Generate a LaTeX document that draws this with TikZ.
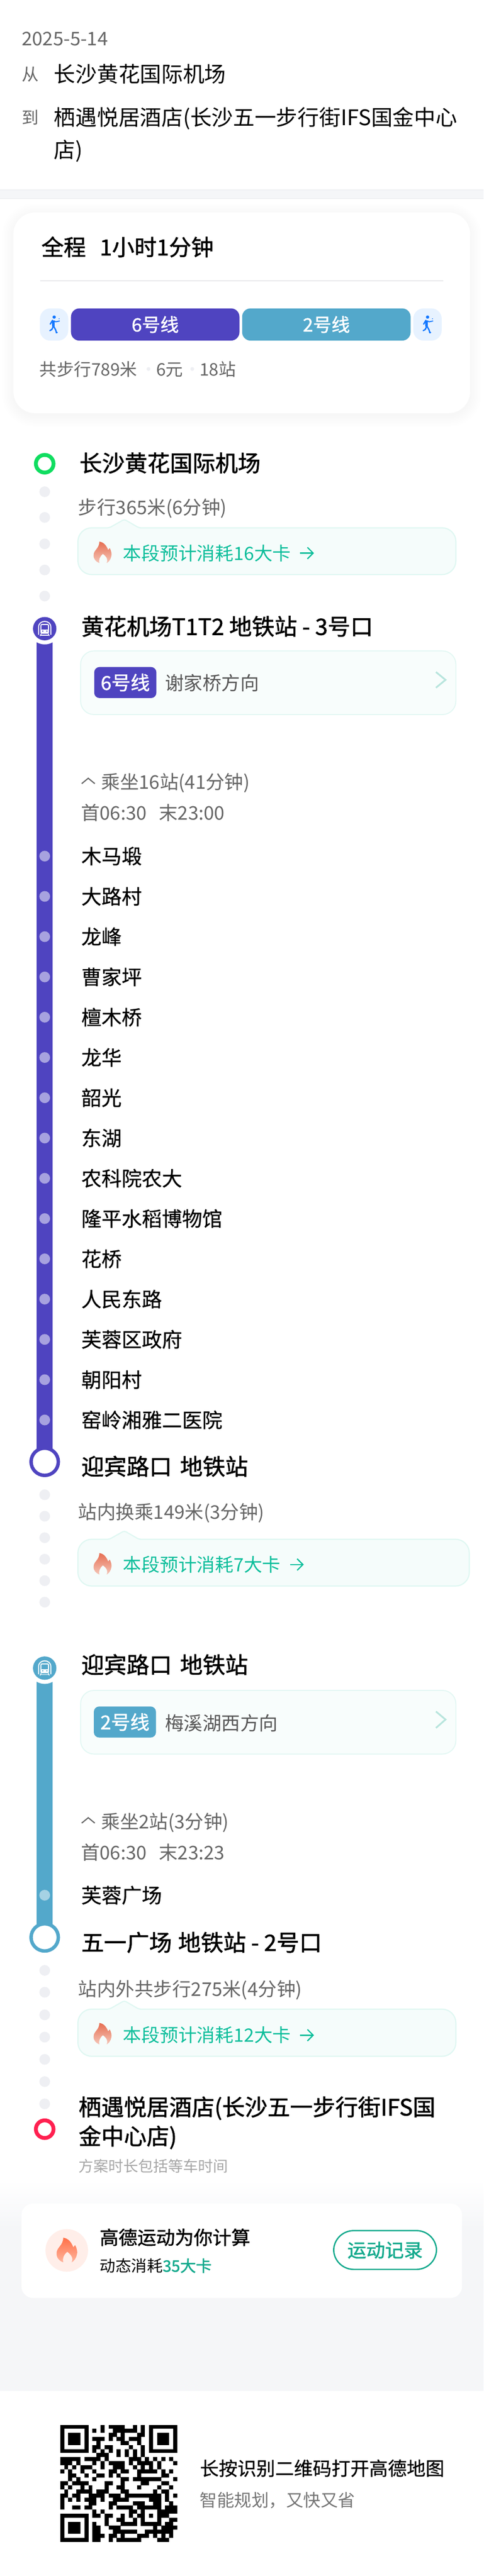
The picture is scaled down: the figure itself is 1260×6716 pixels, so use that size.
\documentclass[tikz,border=0pt]{standalone}
\usepackage{fontspec}
\setmainfont{Noto Sans CJK SC}
\newfontfamily\cjkmed[FakeBold=0.6]{Noto Sans CJK SC}
\newfontfamily\cjksemi[FakeBold=1.4]{Noto Sans CJK SC}
\usetikzlibrary{arrows.meta, backgrounds}
\definecolor{mypurple}{RGB}{79,68,192}
\definecolor{myteal}{RGB}{83,168,203}
\definecolor{mygrey}{RGB}{102,102,102}
\definecolor{mygreen}{RGB}{12,190,155}
\definecolor{mydeep}{RGB}{18,169,140}
\definecolor{mydot}{RGB}{238,239,243}
\definecolor{myband}{RGB}{245,246,248}
\definecolor{myline}{RGB}{232,233,236}
\definecolor{mywalk}{RGB}{20,120,255}
\definecolor{mystart}{RGB}{16,221,96}
\definecolor{myend}{RGB}{255,32,80}
\definecolor{firetop}{RGB}{230,110,82}
\definecolor{firelow}{RGB}{245,198,184}
\definecolor{bigtop}{RGB}{255,112,72}
\definecolor{biglow}{RGB}{255,180,156}
\tikzset{
  txt/.style={inner sep=0,outer sep=0,anchor=west,text height=0.88*#1 pt,text depth=0.12*#1 pt,
    font=\fontsize{#1}{#1}\selectfont},
  boldtxt/.style={txt=#1,font=\fontsize{#1}{#1}\selectfont\cjksemi},
  medtxt/.style={txt=#1,font=\fontsize{#1}{#1}\selectfont\cjkmed},
  title/.style={boldtxt=59},
  stoptxt/.style={medtxt=52.5},
  greytxt/.style={txt=49,color=mygrey},
  firetxt/.style={txt=48,color=mygreen},
  walkdot/.style={circle,fill=mydot,inner sep=0,outer sep=0,minimum size=28},
  purpledot/.style={walkdot,fill=mypurple!50!white},
  tealdot/.style={walkdot,fill=myteal!52!white},
  endring/.style={circle,draw=#1,fill=white,line width=10,inner sep=0,outer sep=0,minimum size=46},
  bigring/.style={circle,draw=#1,fill=white,line width=9,inner sep=0,outer sep=0,minimum size=71},
  metrodot/.style={circle,fill=#1,inner sep=0,outer sep=0,minimum size=61},
  halo/.style={circle,fill=white,inner sep=0,outer sep=0,minimum size=82},
  linebar/.style={line width=42,color=#1},
  pill/.style={fill=#1,rounded corners=22,inner sep=0,outer sep=0,minimum height=84,minimum width=439,
    text=white,font=\fontsize{48}{48}\selectfont\cjksemi},
  walkbox/.style={fill=mywalk!10!white,rounded corners=27,inner sep=0,outer sep=0,minimum height=84,minimum width=74},
  badge/.style={fill=#1,rounded corners=14,inner sep=0,outer sep=0,minimum height=81,minimum width=162,
    text=white,font=\fontsize{50}{50}\selectfont\cjksemi},
  linebox/.style={draw=mygreen!12!white,fill=mygreen!3!white,line width=2.5,rounded corners=35},
  hintline/.style={draw=mygreen!13!white,fill=mygreen!4!white,line width=3},
  chev/.style={draw=mydeep!30!white,line width=4.5},
  caret/.style={draw=mygrey,line width=3},
  arrowicon/.style={draw=mygreen,line width=3.2,-{Straight Barb[length=15pt,width=30pt]}},
  flame/.pic={
    \path[pic actions] (-8,-28) .. controls (4,-26) and (10,-18) .. (15,-6) .. controls (16,-8) and (18,-10) .. (19,-11)
      .. controls (23,-4) and (25,6) .. (23,10) .. controls (21,20) and (16,25) .. (11,28)
      .. controls (15,20) and (12,12) .. (1,4) .. controls (-8,12) and (-10,20) .. (-8,28)
      .. controls (-16,25) and (-24,18) .. (-23,7) .. controls (-23,-6) and (-8,-10) .. (-8,-28) -- cycle;
  },
  walker/.pic={
    \fill[mywalk] (0.2,-19.3) circle (4.3);
    \draw[mywalk,line width=6.5] (-2,-11) -- (-2,5);
    \draw[mywalk,line width=3.5,line cap=round] (-4,-11) -- (-10,-1);
    \draw[mywalk,line width=2.6,line cap=round] (1,-9) -- (4,-7) -- (14,-9);
    \draw[mywalk,line width=3.5,line cap=round] (-2,5) -- (-6,13) -- (-11,16);
    \draw[mywalk,line width=3.5,line cap=round] (-1,5) -- (4,14) -- (6,21) -- (8,21);
    \fill[mywalk] (13,-15) circle (1.4);
  },
  metro/.pic={
    \draw[white,line width=2.6] (-16,16) -- (-16,-4) .. controls (-16,-14) and (-8,-19) .. (0,-19)
      .. controls (8,-19) and (16,-14) .. (16,-4) -- (16,16);
    \draw[white,line width=2.6,rounded corners=3] (-10,-11) rectangle (10,12);
    \fill[white] (-9,3) rectangle (9,11);
    \fill[pic actions] (-7,5) rectangle (-4,8);
    \fill[pic actions] (4,5) rectangle (7,8);
    \draw[white,line width=2] (-9,13) -- (-12,19);
    \draw[white,line width=2] (9,13) -- (12,19);
    \draw[white,line width=2] (-10,17) -- (10,17);
  }
}
\newcommand{\hintbox}[3]{
  \draw[hintline] (260,#1) [rounded corners=36] -- (203,#1) -- (203,#2) -- (#3,#2) -- (#3,#1) -- (400,#1)
    [rounded corners=5] -- (362,#1) -- (324,#1-22) -- (285,#1) -- cycle;
}
\newcommand{\qrfinder}[2]{
  \fill[black] (156.7+10.53*#1,6321.7+10.53*#2) rectangle ++(73.7,73.7);
  \fill[white] (156.7+10.53*#1+10.53,6321.7+10.53*#2+10.53) rectangle ++(52.65,52.65);
  \fill[black] (156.7+10.53*#1+21.06,6321.7+10.53*#2+21.06) rectangle ++(31.6,31.6);
}
\begin{document}
\begin{tikzpicture}[x=1pt,y=-1pt]
\useasboundingbox (0,0) rectangle (1260,6716);

\fill[myband] (0,495) rectangle (1260,518);
\draw[myline,line width=1.5] (0,495) -- (1260,495);
\draw[myline,line width=2] (0,518) -- (1260,518);

\node [txt=49,color=mygrey] (dateTxt) at (57,100) {2025-5-14};
\node [txt=44,color=mygrey] (fromLbl) at (57,193) {从};
\node [txt=56] (fromTxt) at (141,193) {长沙黄花国际机场};
\node [txt=44,color=mygrey] (toLbl) at (57,306) {到};
\node [txt=56] (toTxt) at (141,306) {栖遇悦居酒店(长沙五一步行街IFS国金中心};
\node [txt=56] (toTxtb) at (141,391) {店)};


\foreach \s in {2,6,...,30}
  \fill[black,opacity=0.0045,rounded corners=56+\s] (35-\s,554-\s+6) rectangle (1225+\s,1077+\s+6);
\fill[white,rounded corners=56] (35,554) rectangle (1225,1077);

\node [boldtxt=58] (totalTxt) at (108,644) {全程\hspace{36pt}1小时1分钟};
\draw[myline,line width=2.5] (105,732) -- (1155,732);

\node [walkbox] (walkA) at (141,846) {};
\pic at (walkA) {walker};
\node [pill=mypurple] (pillA) at (404.5,846) {6号线};
\node [pill=myteal] (pillB) at (850.5,846) {2号线};
\node [walkbox] (walkB) at (1114,846) {};
\pic at (walkB) {walker};

\node [txt=45,color=mygrey] (sumA) at (103,963) {共步行789米};
\node [circle,fill=mydot,inner sep=0,minimum size=10] (sepA) at (387,962) {};
\node [txt=45,color=mygrey] (sumB) at (407,963) {6元};
\node [circle,fill=mydot,inner sep=0,minimum size=10] (sepB) at (501,962) {};
\node [txt=45,color=mygrey] (sumC) at (520,963) {18站};


\node [endring=mystart] (startRing) at (116.5,1209) {};
\node [title] (startTxt) at (207,1207) {长沙黄花国际机场};
\node [walkdot] (dotA) at (116.5,1282) {};
\node [walkdot] (dotB) at (116.5,1349) {};
\node [walkdot] (dotC) at (116.5,1418) {};
\node [walkdot] (dotD) at (116.5,1486) {};
\node [walkdot] (dotE) at (116.5,1554) {};
\node [greytxt] (walkTxtA) at (204,1322) {步行365米(6分钟)};

\hintbox{1376}{1498}{1188}
\pic [top color=firetop,bottom color=firelow] at (267,1440) {flame};
\node [firetxt] (fireTxtA) at (321,1442) {本段预计消耗16大卡};
\draw[arrowicon] ([xshift=24]fireTxtA.east) -- ++(36,0);


\node [metrodot=mypurple] (metroA) at (116.5,1639) {};
\pic [fill=mypurple] at (metroA) {metro};
\node [title] (stationA) at (212,1633) {黄花机场T1T2 地铁站 - 3号口};
\path[linebox] (210,1697) rectangle (1188,1863);
\node [badge=mypurple] (badgeA) at (326.5,1779.5) {6号线};
\node [txt=49,color=mygrey!85!black] (dirA) at (430,1780) {谢家桥方向};
\draw[chev] (1136,1752) -- (1161,1772.5) -- (1136,1793);

\draw[caret] (213,2043) -- (230,2029) -- (247,2043);
\node [greytxt] (rideA) at (264,2039) {乘坐16站(41分钟)};
\node [greytxt] (timeA) at (211,2119) {首06:30\hspace{32pt}末23:00};

\node [purpledot] (pA) at (116.5,2232) {};
\node [stoptxt] (sA) at (212,2232) {木马塅};
\node [purpledot] (pB) at (116.5,2337) {};
\node [stoptxt] (sB) at (212,2337) {大路村};
\node [purpledot] (pC) at (116.5,2442) {};
\node [stoptxt] (sC) at (212,2442) {龙峰};
\node [purpledot] (pD) at (116.5,2547) {};
\node [stoptxt] (sD) at (212,2547) {曹家坪};
\node [purpledot] (pE) at (116.5,2652) {};
\node [stoptxt] (sE) at (212,2652) {檀木桥};
\node [purpledot] (pF) at (116.5,2757) {};
\node [stoptxt] (sF) at (212,2757) {龙华};
\node [purpledot] (pG) at (116.5,2862) {};
\node [stoptxt] (sG) at (212,2862) {韶光};
\node [purpledot] (pH) at (116.5,2967) {};
\node [stoptxt] (sH) at (212,2967) {东湖};
\node [purpledot] (pI) at (116.5,3072) {};
\node [stoptxt] (sI) at (212,3072) {农科院农大};
\node [purpledot] (pJ) at (116.5,3177) {};
\node [stoptxt] (sJ) at (212,3177) {隆平水稻博物馆};
\node [purpledot] (pK) at (116.5,3282) {};
\node [stoptxt] (sK) at (212,3282) {花桥};
\node [purpledot] (pL) at (116.5,3387) {};
\node [stoptxt] (sL) at (212,3387) {人民东路};
\node [purpledot] (pM) at (116.5,3492) {};
\node [stoptxt] (sM) at (212,3492) {芙蓉区政府};
\node [purpledot] (pN) at (116.5,3597) {};
\node [stoptxt] (sN) at (212,3597) {朝阳村};
\node [purpledot] (pO) at (116.5,3702) {};
\node [stoptxt] (sO) at (212,3702) {窑岭湘雅二医院};

\node [bigring=mypurple] (ringA) at (116.5,3811) {};
\node [title] (stationB) at (212,3823) {迎宾路口 \hspace{8pt}地铁站};


\node [walkdot] (dotF) at (116.5,3897) {};
\node [walkdot] (dotG) at (116.5,3953) {};
\node [walkdot] (dotH) at (116.5,4009) {};
\node [walkdot] (dotI) at (116.5,4065) {};
\node [walkdot] (dotJ) at (116.5,4121) {};
\node [walkdot] (dotK) at (116.5,4177) {};
\node [greytxt] (walkTxtB) at (204,3942) {站内换乘149米(3分钟)};

\hintbox{4013}{4135}{1223}
\pic [top color=firetop,bottom color=firelow] at (267,4077) {flame};
\node [firetxt] (fireTxtB) at (321,4079) {本段预计消耗7大卡};
\draw[arrowicon] ([xshift=24]fireTxtB.east) -- ++(36,0);


\node [metrodot=myteal] (metroB) at (116.5,4349) {};
\pic [fill=myteal] at (metroB) {metro};
\node [title] (stationC) at (212,4340) {迎宾路口 \hspace{8pt}地铁站};
\path[linebox] (210,4407) rectangle (1188,4573);
\node [badge=myteal] (badgeB) at (325.5,4489.5) {2号线};
\node [txt=49,color=mygrey!85!black] (dirB) at (430,4492) {梅溪湖西方向};
\draw[chev] (1136,4462) -- (1161,4483) -- (1136,4505);

\draw[caret] (213,4753) -- (230,4739) -- (247,4753);
\node [greytxt] (rideB) at (264,4749) {乘坐2站(3分钟)};
\node [greytxt] (timeB) at (211,4829) {首06:30\hspace{32pt}末23:23};

\node [tealdot] (qA) at (116.5,4941) {};
\node [stoptxt] (tA) at (212,4941) {芙蓉广场};

\node [bigring=myteal] (ringB) at (116.5,5051) {};
\node [title] (stationD) at (212,5064) {五一广场 \hspace{3pt}地铁站 - 2号口};


\node [walkdot] (dotL) at (116.5,5137) {};
\node [walkdot] (dotM) at (116.5,5194) {};
\node [walkdot] (dotN) at (116.5,5253) {};
\node [walkdot] (dotO) at (116.5,5311) {};
\node [walkdot] (dotP) at (116.5,5369) {};
\node [walkdot] (dotQ) at (116.5,5427) {};
\node [walkdot] (dotR) at (116.5,5485) {};
\node [greytxt] (walkTxtC) at (204,5185) {站内外共步行275米(4分钟)};

\hintbox{5238}{5361}{1188}
\pic [top color=firetop,bottom color=firelow] at (267,5302) {flame};
\node [firetxt] (fireTxtC) at (321,5306) {本段预计消耗12大卡};
\draw[arrowicon] ([xshift=24]fireTxtC.east) -- ++(36,0);

\node [endring=myend] (endRing) at (116.5,5551) {};
\node [title] (endTxt) at (205,5493) {栖遇悦居酒店(长沙五一步行街IFS国};
\node [title] (endTxtb) at (205,5569) {金中心店)};
\node [txt=39,color=gray!70] (noteTxt) at (205,5647) {方案时长包括等车时间};


\fill[top color=white,bottom color=myband] (0,5684) rectangle (1260,5810);
\fill[myband] (0,5809) rectangle (1260,6234);
\fill[white,rounded corners=30] (56,5745) rectangle (1204,5991);
\node [circle,inner sep=0,minimum size=111,fill=bigtop!12!white] (fireDot) at (174,5867) {};
\pic [scale=1.15,top color=bigtop,bottom color=biglow] at (174,5866) {flame};
\node [boldtxt=49] (calcTxt) at (260,5833) {高德运动为你计算};
\node [txt=41] (burnTxt) at (260,5907) {动态消耗};
\node [boldtxt=41,color=mydeep] (burnNum) at (burnTxt.east) {35大卡};
\node [draw=mydeep,line width=3.5,rounded corners=52,inner sep=0,minimum width=268,minimum height=101,
  boldtxt=49,anchor=center,color=mydeep,text=mydeep] (recordBtn) at (1003.5,5866) {运动记录};

\qrfinder{0}{0}
\qrfinder{22}{0}
\qrfinder{0}{22}
\foreach \r/\cols in {
  0/{10,12,13,14,15,18,20},
  1/{8,10,13,14,15,16,17,18,20},
  2/{12,13,15,19,20},
  3/{8,9,10,12,14,15,17,18,19},
  4/{9,15,16,19},
  5/{8,9,11,12,17,20},
  6/{8,10,12,14,16,18,20},
  7/{9,10,11,14,16,18,20},
  8/{0,1,2,3,4,6,7,8,9,11,17,18,19,21,23,25,27},
  9/{0,1,2,4,8,10,12,13,14,15,17,19,20,21,22,24,28},
  10/{1,3,5,6,7,10,13,14,15,18,20,22,24},
  11/{0,2,5,8,12,13,15,16,19,20,21,22,23,25,27},
  12/{2,3,6,9,10,12,14,19,25,26},
  13/{2,4,8,15,16,18,19,20,21,22,23,24,28},
  14/{0,1,3,4,5,6,11,12,15,20,21,25,26},
  15/{0,2,5,7,11,14,15,19,24,27},
  16/{1,4,5,6,7,9,10,11,15,16,23,25,26},
  17/{0,1,3,4,7,8,9,10,12,13,14,16,17,18,19,20,21,22,23,24,26,28},
  18/{0,2,4,6,7,8,10,13,14,15,16,22,23,24,26},
  19/{0,7,8,12,13,18,19,20,23,24,27},
  20/{0,3,4,6,7,12,14,15,16,17,19,20,21,22,23,24,26,27,28},
  21/{8,10,17,18,20,24,25,26,27,28},
  22/{8,9,11,12,15,17,19,20,22,24,25,26},
  23/{11,14,15,18,20,24,27,28},
  24/{8,11,15,16,17,18,20,21,22,23,24,26,27},
  25/{8,9,12,13,14,23,25,26,27,28},
  26/{8,9,13,14,15,16,17,18,21,22,23,24,25,26,27},
  27/{8,9,10,12,13,15,19,20,21,23,25,27},
  28/{8,9,12,14,15,16,17,18,19,24,25,26}}
  \foreach \c in \cols
    \fill[black] (156.7+10.53*\c,6321.7+10.53*\r) rectangle ++(10.65,10.65);

\node [medtxt=49] (scanTxt) at (521,6435) {长按识别二维码打开高德地图};
\node [txt=45,color=mygrey!90!white] (slogan) at (521,6518) {智能规划，又快又省};


\begin{pgfonlayer}{background}
\draw[linebar=mypurple] (metroA.center) -- (ringA.center);
\draw[linebar=myteal] (metroB.center) -- (ringB.center);
\node [halo] (haloA) at (metroA) {};
\node [halo] (haloB) at (metroB) {};
\end{pgfonlayer}

\end{tikzpicture}
\end{document}
